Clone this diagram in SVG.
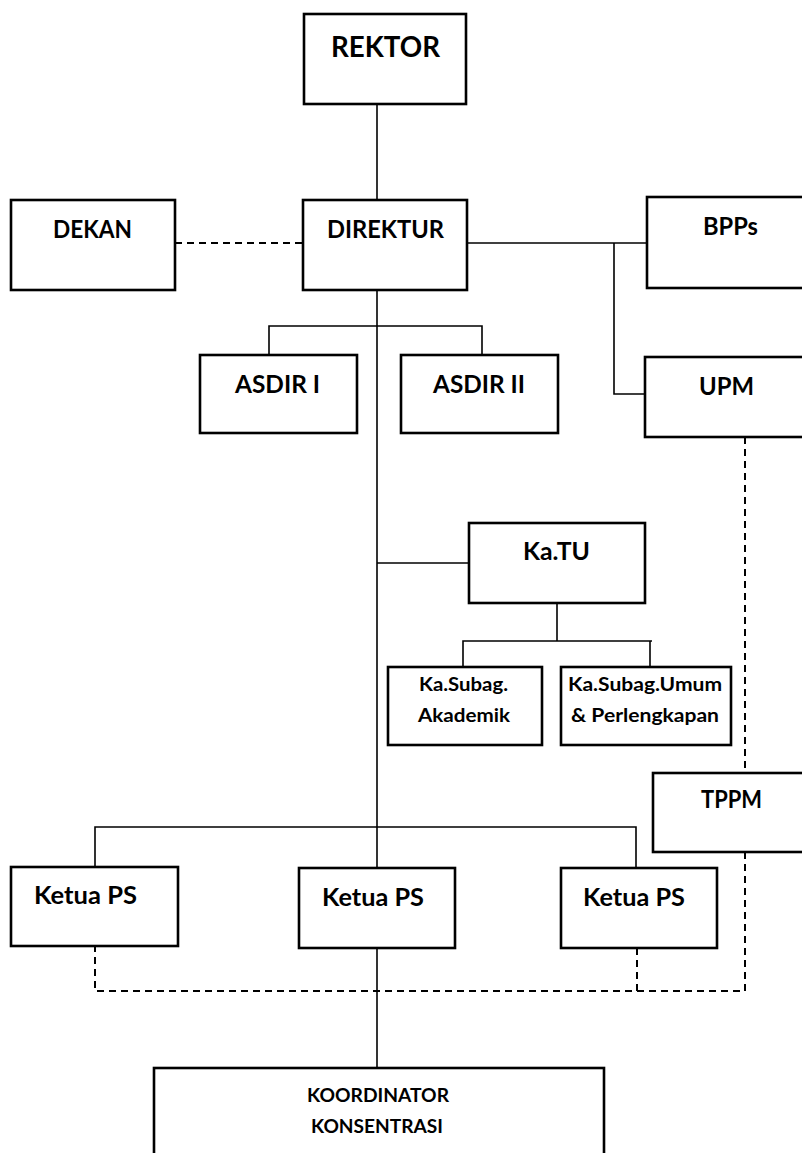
<svg xmlns="http://www.w3.org/2000/svg" width="802" height="1153" viewBox="0 0 802 1153">
<style>
.box{fill:#fff;stroke:#000;stroke-width:2.6}
.t{font-family:Lato,"Open Sans","Liberation Sans",sans-serif;font-weight:bold;fill:#000;text-anchor:middle}
.big{font-size:28px}
.mid{font-size:25px}
.sm{font-size:19px}
.ln{fill:none;stroke:#000;stroke-width:1.6}
.ds{fill:none;stroke:#000;stroke-width:2;stroke-dasharray:7 5}
</style>
<rect width="802" height="1153" fill="#fff"/>
<g id="connectors">
<line class="ln" x1="377" y1="104" x2="377" y2="200"/>
<line class="ds" x1="175" y1="243" x2="303" y2="243"/>
<line class="ln" x1="467" y1="243" x2="647" y2="243"/>
<polyline class="ln" points="614,243 614,394 645,394"/>
<line class="ln" x1="377" y1="290" x2="377" y2="868"/>
<polyline class="ln" points="269,355 269,326 482,326 482,355"/>
<line class="ln" x1="377" y1="563" x2="469" y2="563"/>
<line class="ln" x1="557" y1="603" x2="557" y2="641"/>
<polyline class="ln" points="463,667 463,641 652,641"/>
<line class="ln" x1="650" y1="641" x2="650" y2="667"/>
<polyline class="ln" points="95,867 95,827 636,827 636,868"/>
<line class="ln" x1="377" y1="948" x2="377" y2="1068"/>
<line class="ds" x1="745" y1="437" x2="745" y2="773"/>
<polyline class="ds" points="745,852 745,991 95,991 95,946"/>
<line class="ds" x1="637" y1="948" x2="637" y2="991"/>
</g>
<g id="rektor"><rect class="box" x="304" y="14" width="162" height="90"/><text class="t big" x="385.5" y="57" textLength="109" lengthAdjust="spacingAndGlyphs">REKTOR</text></g>
<g id="dekan"><rect class="box" x="11" y="200" width="164" height="90"/><text class="t mid" x="92.5" y="238" textLength="79" lengthAdjust="spacingAndGlyphs">DEKAN</text></g>
<g id="direktur"><rect class="box" x="303" y="200" width="164" height="90"/><text class="t mid" x="385.5" y="238" textLength="117" lengthAdjust="spacingAndGlyphs">DIREKTUR</text></g>
<g id="bpps"><rect class="box" x="647" y="197" width="160" height="91"/><text class="t mid" x="730.5" y="235" textLength="55" lengthAdjust="spacingAndGlyphs">BPPs</text></g>
<g id="asdir1"><rect class="box" x="200" y="355" width="157" height="78"/><text class="t mid" x="277.5" y="393" textLength="85" lengthAdjust="spacingAndGlyphs">ASDIR I</text></g>
<g id="asdir2"><rect class="box" x="401" y="355" width="157" height="78"/><text class="t mid" x="479" y="393" textLength="92" lengthAdjust="spacingAndGlyphs">ASDIR II</text></g>
<g id="upm"><rect class="box" x="645" y="357" width="162" height="80"/><text class="t mid" x="726.5" y="395" textLength="55" lengthAdjust="spacingAndGlyphs">UPM</text></g>
<g id="katu"><rect class="box" x="469" y="523" width="176" height="80"/><text class="t mid" x="556.5" y="560" textLength="67" lengthAdjust="spacingAndGlyphs">Ka.TU</text></g>
<g id="subag-akademik"><rect class="box" x="388" y="667" width="154" height="78"/><text class="t sm" x="463.5" y="691" textLength="89" lengthAdjust="spacingAndGlyphs">Ka.Subag.</text><text class="t sm" x="464" y="722" textLength="92" lengthAdjust="spacingAndGlyphs">Akademik</text></g>
<g id="subag-umum"><rect class="box" x="561" y="667" width="170" height="78"/><text class="t sm" x="645" y="691" textLength="154" lengthAdjust="spacingAndGlyphs">Ka.Subag.Umum</text><text class="t sm" x="645" y="722" textLength="148" lengthAdjust="spacingAndGlyphs">&amp; Perlengkapan</text></g>
<g id="tppm"><rect class="box" x="653" y="773" width="154" height="79"/><text class="t mid" x="731.5" y="808" textLength="61" lengthAdjust="spacingAndGlyphs">TPPM</text></g>
<g id="ketua-ps-1"><rect class="box" x="11" y="867" width="167" height="79"/><text class="t mid" x="85.5" y="904" textLength="103" lengthAdjust="spacingAndGlyphs">Ketua PS</text></g>
<g id="ketua-ps-2"><rect class="box" x="299" y="868" width="156" height="80"/><text class="t mid" x="373" y="906" textLength="102" lengthAdjust="spacingAndGlyphs">Ketua PS</text></g>
<g id="ketua-ps-3"><rect class="box" x="561" y="868" width="156" height="80"/><text class="t mid" x="634" y="906" textLength="102" lengthAdjust="spacingAndGlyphs">Ketua PS</text></g>
<g id="koordinator"><rect class="box" x="154" y="1068" width="450" height="100"/><text class="t sm" x="378" y="1102" textLength="142" lengthAdjust="spacingAndGlyphs">KOORDINATOR</text><text class="t sm" x="377" y="1133" textLength="132" lengthAdjust="spacingAndGlyphs">KONSENTRASI</text></g>
</svg>
